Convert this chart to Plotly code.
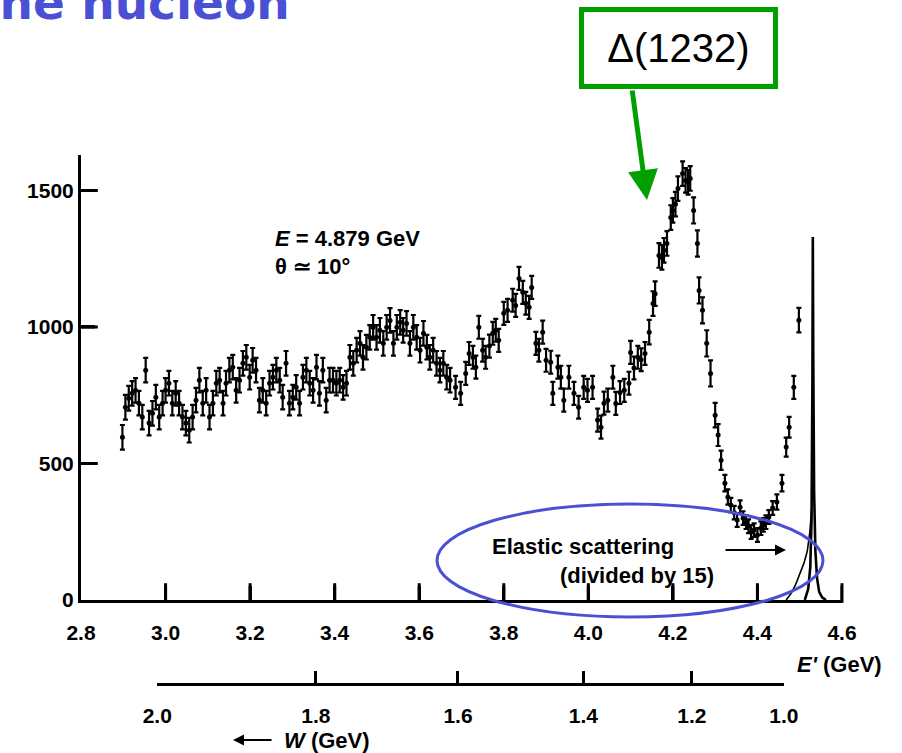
import math
import plotly.graph_objects as go

# ---------------- data ----------------
E_prime = [
    2.898, 2.905, 2.913, 2.921, 2.929, 2.937, 2.945, 2.953, 2.961, 2.969,
    2.977, 2.985, 2.993, 3.000, 3.008, 3.016, 3.024, 3.032, 3.040, 3.048,
    3.056, 3.064, 3.072, 3.080, 3.088, 3.096, 3.104, 3.112, 3.120, 3.128,
    3.136, 3.143, 3.151, 3.159, 3.167, 3.175, 3.183, 3.191, 3.199, 3.206,
    3.214, 3.222, 3.230, 3.238, 3.246, 3.254, 3.262, 3.270, 3.277, 3.285,
    3.293, 3.301, 3.309, 3.317, 3.325, 3.333, 3.341, 3.349, 3.357, 3.364,
    3.372, 3.380, 3.388, 3.396, 3.404, 3.412, 3.420, 3.428, 3.436, 3.444,
    3.452, 3.460, 3.467, 3.475, 3.483, 3.491, 3.499, 3.507, 3.515, 3.523,
    3.531, 3.539, 3.547, 3.555, 3.562, 3.570, 3.578, 3.586, 3.594, 3.602,
    3.610, 3.618, 3.625, 3.633, 3.641, 3.649, 3.657, 3.665, 3.673, 3.686,
    3.698, 3.710, 3.718, 3.727, 3.734, 3.741, 3.750, 3.757, 3.766, 3.774,
    3.781, 3.788, 3.800, 3.809, 3.821, 3.828, 3.836, 3.845, 3.852, 3.860,
    3.866, 3.876, 3.883, 3.892, 3.900, 3.911, 3.916, 3.928, 3.935, 3.942,
    3.954, 3.966, 3.977, 3.989, 3.998, 4.010, 4.022, 4.030, 4.037, 4.046,
    4.058, 4.065, 4.075, 4.085, 4.096, 4.100, 4.108, 4.117, 4.125, 4.134,
    4.144, 4.153, 4.158, 4.167, 4.174, 4.179, 4.186, 4.195, 4.200, 4.206,
    4.212, 4.223, 4.230, 4.236, 4.241, 4.249, 4.258, 4.262, 4.270, 4.280,
    4.289, 4.300, 4.307, 4.314, 4.323, 4.330, 4.337, 4.345, 4.352, 4.359,
    4.366, 4.373, 4.379, 4.385, 4.392, 4.400, 4.408, 4.414, 4.420, 4.427,
    4.436, 4.446, 4.458, 4.468, 4.475, 4.486, 4.498,
]
counts = [
    596, 706, 739, 757, 768, 721, 670, 842, 648, 684,
    743, 670, 721, 768, 794, 721, 757, 721, 670, 648,
    622, 670, 732, 805, 721, 768, 670, 721, 794, 805,
    721, 794, 842, 853, 768, 805, 867, 889, 816, 878,
    842, 732, 768, 721, 794, 816, 842, 805, 743, 867,
    721, 743, 779, 721, 816, 842, 794, 768, 853, 757,
    842, 732, 805, 805, 794, 805, 779, 794, 889, 867,
    915, 940, 889, 926, 962, 999, 962, 988, 940, 999,
    1024, 940, 999, 1017, 988, 1013, 940, 999, 962, 915,
    977, 926, 889, 915, 867, 842, 867, 816, 805, 779,
    757, 830, 903, 889, 853, 999, 915, 889, 930, 977,
    988, 951, 1050, 1061, 1098, 1079, 1178, 1127, 1087, 1072,
    1145, 940, 915, 981, 878, 871, 757, 853, 816, 732,
    816, 757, 706, 779, 768, 779, 659, 633, 721, 732,
    816, 720, 760, 768, 794, 907, 850, 889, 880, 903,
    981, 1086, 1122, 1262, 1255, 1281, 1306, 1401, 1427, 1450,
    1507, 1562, 1537, 1530, 1544, 1427, 1306, 1134, 1061, 940,
    830, 677, 604, 512, 428, 377, 348, 320, 293, 340,
    300, 285, 270, 249, 256, 238, 263, 275, 285, 304,
    337, 359, 428, 560, 633, 779, 1025,
]
errors = [
    45, 45, 45, 45, 45, 45, 45, 45, 45, 45,
    45, 45, 45, 45, 45, 45, 45, 45, 45, 45,
    45, 45, 45, 45, 45, 45, 45, 45, 45, 45,
    45, 45, 45, 45, 45, 45, 45, 45, 45, 45,
    45, 45, 45, 45, 45, 45, 45, 45, 45, 45,
    45, 45, 45, 45, 45, 45, 45, 45, 45, 45,
    45, 45, 45, 45, 45, 45, 45, 45, 45, 45,
    45, 45, 45, 45, 45, 45, 45, 45, 45, 45,
    45, 45, 45, 45, 45, 45, 45, 45, 45, 45,
    45, 45, 45, 45, 45, 45, 45, 45, 45, 42,
    42, 42, 42, 42, 42, 42, 42, 42, 42, 42,
    42, 42, 42, 42, 42, 42, 42, 42, 42, 42,
    42, 42, 42, 42, 42, 42, 42, 42, 42, 42,
    42, 42, 42, 42, 42, 42, 42, 42, 42, 42,
    42, 42, 42, 42, 42, 42, 42, 42, 42, 42,
    45, 45, 45, 45, 45, 45, 45, 45, 45, 45,
    45, 45, 45, 45, 45, 48, 48, 48, 48, 48,
    48, 45, 40, 35, 30, 28, 26, 25, 25, 25,
    25, 25, 25, 25, 25, 25, 25, 25, 25, 25,
    25, 28, 30, 35, 38, 42, 45,
]
assert len(E_prime) == len(counts) == len(errors)

# elastic peak (divided by 15) and its left-side tail curve
elastic_E = [4.512, 4.520, 4.525, 4.528, 4.530, 4.531, 4.532, 4.534, 4.537, 4.541, 4.546, 4.553, 4.562]
elastic_V = [0, 40, 120, 300, 800, 1330, 900, 400, 180, 80, 30, 10, 0]
tail_E = [4.468, 4.480, 4.490, 4.500, 4.510, 4.518, 4.524, 4.528]
tail_V = [0, 25, 55, 95, 135, 180, 250, 330]

x_ticks = [2.8, 3.0, 3.2, 3.4, 3.6, 3.8, 4.0, 4.2, 4.4, 4.6]
x_ticktext = ["2.8", "3.0", "3.2", "3.4", "3.6", "3.8", "4.0", "4.2", "4.4", "4.6"]
y_ticks = [0, 500, 1000, 1500]
y_ticktext = ["0", "500", "1000", "1500"]
W_ticks = [2.0, 1.8, 1.6, 1.4, 1.2, 1.0]
W_ticktext = ["2.0", "1.8", "1.6", "1.4", "1.2", "1.0"]

# kinematics for the W scale
E_beam = 4.879
theta_deg = 10.0
M_p = 0.938


def eprime_of_w(W):
    s2 = math.sin(math.radians(theta_deg) / 2) ** 2
    return (M_p ** 2 + 2 * M_p * E_beam - W ** 2) / (2 * M_p + 4 * E_beam * s2)


# ---------------- layout geometry ----------------
FW, FH = 902, 753
ML, MR, MT, MB = 81, 60, 155, 30
PW = FW - ML - MR
PH = FH - MT - MB
X_AXIS_PX = 600   # pixel row of the E' axis
W_AXIS_PX = 683   # pixel row of the W axis
X_MIN, X_MAX = 2.8, 4.6
Y_MAX = 1630
TICK_LEN = 14


def px(x):
    return (x - ML) / PW


def py(y):
    return (FH - MB - y) / PH


y_dom0 = py(X_AXIS_PX)
y_dom_px = X_AXIS_PX - MT
w_lo, w_hi = eprime_of_w(W_ticks[0]), eprime_of_w(W_ticks[-1])
x2_dom = [(w_lo - X_MIN) / (X_MAX - X_MIN), (w_hi - X_MIN) / (X_MAX - X_MIN)]
y2_dom = [py(W_AXIS_PX), py(W_AXIS_PX - 10)]

# inward tick segments (length TICK_LEN px) built from the tick value lists
x_tick_h = TICK_LEN * Y_MAX / y_dom_px
y_tick_w = TICK_LEN * (X_MAX - X_MIN) / PW
tick_x, tick_y = [], []
for t in x_ticks[1:]:
    tick_x += [t, t, None]
    tick_y += [0, x_tick_h, None]
for t in y_ticks[1:]:
    tick_x += [X_MIN, X_MIN + y_tick_w, None]
    tick_y += [t, t, None]

FONT = "Liberation Sans, Arial, sans-serif"

fig = go.Figure()
fig.add_trace(go.Scatter(
    x=E_prime, y=counts, mode="markers",
    marker=dict(color="black", size=5),
    error_y=dict(type="data", array=errors, color="black", thickness=2.2, width=2.5),
    showlegend=False, hoverinfo="skip",
))
fig.add_trace(go.Scatter(
    x=elastic_E, y=elastic_V, mode="lines", line=dict(color="black", width=2.6),
    showlegend=False, hoverinfo="skip",
))
fig.add_trace(go.Scatter(
    x=tail_E, y=tail_V, mode="lines", line=dict(color="black", width=1.6),
    showlegend=False, hoverinfo="skip",
))
# tick marks drawn as line segments and as line-shaped markers
fig.add_trace(go.Scatter(
    x=tick_x, y=tick_y, mode="lines", line=dict(color="black", width=3),
    showlegend=False, hoverinfo="skip", connectgaps=False,
))
fig.add_trace(go.Scatter(
    x=x_ticks[1:], y=[x_tick_h / 2] * (len(x_ticks) - 1), mode="markers",
    marker=dict(symbol="line-ns", size=TICK_LEN, color="black",
                line=dict(color="black", width=3)),
    showlegend=False, hoverinfo="skip", cliponaxis=False,
))
fig.add_trace(go.Scatter(
    x=[X_MIN + y_tick_w / 2] * (len(y_ticks) - 1), y=y_ticks[1:], mode="markers",
    marker=dict(symbol="line-ew", size=TICK_LEN, color="black",
                line=dict(color="black", width=3)),
    showlegend=False, hoverinfo="skip", cliponaxis=False,
))
fig.add_trace(go.Scatter(
    x=[w_lo, w_hi], y=[None, None], xaxis="x2", yaxis="y2", mode="markers",
    showlegend=False, hoverinfo="skip",
))


def axis_style(ticklen):
    return dict(
        showgrid=False, zeroline=False, showline=True, linecolor="black", linewidth=3,
        ticks="inside", tickcolor="black", tickwidth=2.5, ticklen=ticklen,
        tickfont=dict(family=FONT, size=21, color="black", weight="bold"),
    )


fig.update_layout(
    width=FW, height=FH,
    margin=dict(l=ML, r=MR, t=MT, b=MB),
    paper_bgcolor="white", plot_bgcolor="rgba(0,0,0,0)",
    xaxis=dict(range=[X_MIN, X_MAX], domain=[0, 1], anchor="y",
               tickmode="array", tickvals=x_ticks, ticktext=x_ticktext,
               ticklabelstandoff=12, **axis_style(TICK_LEN)),
    yaxis=dict(range=[0, Y_MAX], domain=[y_dom0, 1], anchor="x",
               tickmode="array", tickvals=y_ticks, ticktext=y_ticktext,
               **axis_style(TICK_LEN)),
    xaxis2=dict(range=[w_lo, w_hi], domain=x2_dom, anchor="y2",
                tickmode="array", tickvals=[eprime_of_w(w) for w in W_ticks], ticktext=W_ticktext,
                ticklabelstandoff=12, **axis_style(12)),
    yaxis2=dict(domain=y2_dom, anchor="x2", visible=False, range=[0, 1]),
)

BLUE = "#4A50D4"
GREEN = "#00A000"
txt = dict(family=FONT, size=22, color="black", weight="bold")

annotations = [
    # slide title fragment (cut off by the frame)
    dict(x=px(292), y=py(2), xref="paper", yref="paper", xanchor="right", yanchor="middle",
         text="the nucleon", showarrow=False,
         font=dict(family="DejaVu Sans", size=47, color=BLUE, weight="bold")),
    # Delta(1232) box
    dict(x=px(678.5), y=py(48), xref="paper", yref="paper", xanchor="center", yanchor="middle",
         text="Δ(1232)", showarrow=False, width=189, height=72, borderpad=0,
         bordercolor=GREEN, borderwidth=5, bgcolor="white",
         font=dict(family=FONT, size=40, color="black")),
    # green arrow
    dict(x=px(647), y=py(200), xref="paper", yref="paper", text="", showarrow=True,
         ax=-15, ay=-111, arrowhead=2, arrowsize=1.2, arrowwidth=5, arrowcolor=GREEN),
    # kinematics text
    dict(x=px(273), y=py(238), xref="paper", yref="paper", xanchor="left", yanchor="middle",
         text="<i>E</i> = 4.879 GeV", showarrow=False, font=txt),
    dict(x=px(273), y=py(266), xref="paper", yref="paper", xanchor="left", yanchor="middle",
         text="θ ≃ 10°", showarrow=False, font=txt),
    # elastic label
    dict(x=px(490), y=py(546), xref="paper", yref="paper", xanchor="left", yanchor="middle",
         text="Elastic scattering", showarrow=False, font=txt),
    dict(x=px(558), y=py(575), xref="paper", yref="paper", xanchor="left", yanchor="middle",
         text="(divided by 15)", showarrow=False, font=txt),
    dict(x=px(786), y=py(550), xref="paper", yref="paper", text="", showarrow=True,
         ax=-62, ay=0, arrowhead=2, arrowsize=1.1, arrowwidth=2, arrowcolor="black"),
    # axis titles
    dict(x=px(795), y=py(664), xref="paper", yref="paper", xanchor="left", yanchor="middle",
         text="<i>E'</i> (GeV)", showarrow=False, font=txt),
    dict(x=px(282), y=py(740), xref="paper", yref="paper", xanchor="left", yanchor="middle",
         text="<i>W</i> (GeV)", showarrow=False, font=txt),
    dict(x=px(233), y=py(740), xref="paper", yref="paper", text="", showarrow=True,
         ax=40, ay=0, arrowhead=2, arrowsize=1.1, arrowwidth=2, arrowcolor="black"),
]
fig.update_layout(annotations=annotations)

fig.add_shape(type="circle", xref="paper", yref="paper",
              x0=px(437), x1=px(823), y0=py(617), y1=py(504),
              line=dict(color=BLUE, width=3), layer="above")

fig.write_html("out.html", config={"displayModeBar": False})
